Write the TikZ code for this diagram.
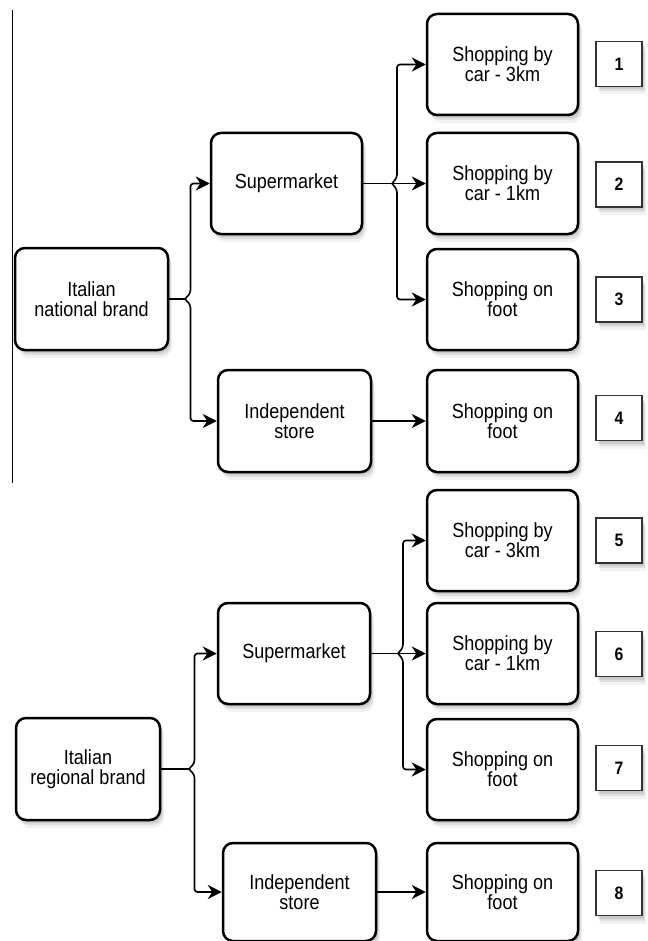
\documentclass[tikz,border=0pt]{standalone}
\usepackage{fontspec}
\setmainfont{Liberation Sans}[FakeStretch=0.88]
\usetikzlibrary{arrows.meta,shadows}
\tikzset{
  softshadow/.style={
    drop shadow={shadow xshift=2pt, shadow yshift=-3pt, fill=black, opacity=0.09},
    drop shadow={shadow xshift=3pt, shadow yshift=-5pt, fill=black, opacity=0.08},
    drop shadow={shadow xshift=4pt, shadow yshift=-8pt, fill=black, opacity=0.05}},
  box/.style={draw, line width=2.5pt, rounded corners=10pt, fill=white, align=center,
    inner sep=0pt, font=\fontsize{20.5}{20}\selectfont, softshadow},
  numbox/.style={draw=black!80, line width=1.3pt, fill=white, inner sep=0pt,
    minimum width=46pt, minimum height=45pt, font=\fontsize{18}{18}\selectfont\bfseries,
    softshadow},
  conn/.style={line width=1.6pt, rounded corners=3pt,
    -{Stealth[length=14pt, width=14pt, inset=4.5pt]}},
  plain/.style={line width=1.6pt},
}
\begin{document}
\begin{tikzpicture}[x=1pt,y=-1pt]
\useasboundingbox (0,0) rectangle (647,941);
\fill[white] (0,0) rectangle (647,941);

% divider line
\draw[line width=1pt] (12,10) -- (12,483);

% ---------- top half ----------
\node[box, minimum width=153pt, minimum height=102pt] (natl) at (91.5,299) {Italian\\national brand};
\node[box, minimum width=151pt, minimum height=101pt] (sup1) at (286.5,183.5) {Supermarket};
\node[box, minimum width=153pt, minimum height=102pt] (ind1) at (294.5,421) {Independent\\store};
\node[box, minimum width=151pt, minimum height=101pt] (s1) at (502.5,64.5) {Shopping by\\car - 3km};
\node[box, minimum width=151pt, minimum height=101pt] (s2) at (502.5,183.5) {Shopping by\\car - 1km};
\node[box, minimum width=151pt, minimum height=101pt] (s3) at (502.5,299.5) {Shopping on\\foot};
\node[box, minimum width=151pt, minimum height=102pt] (s4) at (502.5,421) {Shopping on\\foot};

\node[numbox] (n1) at (619,64) {1};
\node[numbox] (n2) at (619,184.5) {2};
\node[numbox] (n3) at (619,299.5) {3};
\node[numbox] (n4) at (619,418) {4};

\coordinate (j1) at (185,299);
\coordinate (j2) at (392,183.5);
\draw[plain] (natl.east) -- (j1);
\draw[conn] (j1) -- (190.5,293) -- (190.5,183.5) -- (sup1.west);
\draw[conn] (j1) -- (190.5,305) -- (190.5,421) -- (ind1.west);
\draw[plain] (sup1.east) -- (j2);
\draw[conn] (j2) -- (397,177.5) -- (397,64.5) -- (s1.west);
\draw[conn] (j2) -- (s2.west);
\draw[conn] (j2) -- (397,189.5) -- (397,299.5) -- (s3.west);
\draw[conn] (ind1.east) -- (s4.west);

% ---------- bottom half ----------
\node[box, minimum width=144pt, minimum height=102pt] (reg) at (88,769) {Italian\\regional brand};
\node[box, minimum width=152pt, minimum height=101pt] (sup2) at (294,653.5) {Supermarket};
\node[box, minimum width=153pt, minimum height=98pt] (ind2) at (299.5,892) {Independent\\store};
\node[box, minimum width=151pt, minimum height=101pt] (s5) at (502.5,540.5) {Shopping by\\car - 3km};
\node[box, minimum width=151pt, minimum height=101pt] (s6) at (502.5,653.5) {Shopping by\\car - 1km};
\node[box, minimum width=151pt, minimum height=101pt] (s7) at (502.5,769.5) {Shopping on\\foot};
\node[box, minimum width=151pt, minimum height=98pt] (s8) at (502.5,892) {Shopping on\\foot};

\node[numbox] (n5) at (619,540.5) {5};
\node[numbox] (n6) at (619,654) {6};
\node[numbox] (n7) at (619,768) {7};
\node[numbox] (n8) at (619,893) {8};

\coordinate (j3) at (189,769);
\coordinate (j4) at (398,653.5);
\draw[plain] (reg.east) -- (j3);
\draw[conn] (j3) -- (194.5,763) -- (194.5,653.5) -- (sup2.west);
\draw[conn] (j3) -- (194.5,775) -- (194.5,892) -- (ind2.west);
\draw[plain] (sup2.east) -- (j4);
\draw[conn] (j4) -- (403,647.5) -- (403,540.5) -- (s5.west);
\draw[conn] (j4) -- (s6.west);
\draw[conn] (j4) -- (403,659.5) -- (403,769.5) -- (s7.west);
\draw[conn] (ind2.east) -- (s8.west);
\end{tikzpicture}
\end{document}
